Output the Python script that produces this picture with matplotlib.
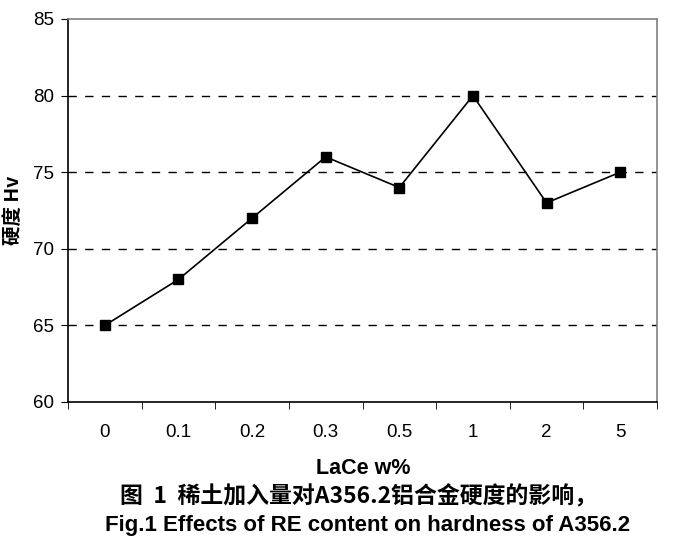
import matplotlib
matplotlib.use("Agg")
import matplotlib.pyplot as plt

categories = ["0", "0.1", "0.2", "0.3", "0.5", "1", "2", "5"]
hardness = [65, 68, 72, 76, 74, 80, 73, 75]
yticks = [60, 65, 70, 75, 80, 85]

plt.rcParams['font.family'] = ['Liberation Sans', 'Noto Sans CJK SC', 'DejaVu Sans']

fig = plt.figure(figsize=(6.75, 5.49), dpi=100)
ax = fig.add_axes([68/675, 1-402/549, (657-68)/675, (402-19)/549])

x = list(range(len(categories)))
ax.plot(x, hardness, color='black', lw=1.2, marker='s', markersize=7,
        markerfacecolor='black', markeredgecolor='black', zorder=3)

ax.set_xlim(-0.5, len(categories)-0.5)
ax.set_ylim(60, 85)
ax.set_yticks(yticks)
ax.set_yticklabels([str(v) for v in yticks], fontsize=13.5)
ax.set_xticks(x)
ax.set_xticklabels(categories, fontsize=13.5)
ax.tick_params(axis='x', length=0, pad=16)
ax.set_xticks([i+0.5 for i in range(-1, len(categories))], minor=True)
ax.tick_params(axis='x', which='minor', length=5, direction='out', color='black')
ax.tick_params(axis='y', length=5, direction='out', pad=5, color='black')

for v in [65, 70, 75, 80]:
    ax.axhline(v, color='black', lw=1, ls=(0, (6, 6)), zorder=1)

ax.spines['left'].set_color('black')
ax.spines['bottom'].set_color('black')
ax.spines['top'].set_color('#808080')
ax.spines['right'].set_color('#808080')
for s in ax.spines.values():
    s.set_linewidth(1.2)

fig.text(13/675, 1-210/549, "硬度 Hv", rotation=90, fontsize=14, fontweight='bold',
         ha='center', va='center', family=['Noto Sans CJK SC', 'Liberation Sans'])

fig.text(363/675, 1-468/549, "LaCe w%", fontsize=15.5, fontweight='bold',
         ha='center', va='center')
fig.text(359/675, 1-497/549, "图  1  稀土加入量对A356.2铝合金硬度的影响，", fontsize=16.5,
         fontweight='bold', ha='center', va='center',
         family=['Noto Sans CJK SC', 'Liberation Sans'])
fig.text(368/675, 1-526/549, "Fig.1 Effects of RE content on hardness of A356.2",
         fontsize=16, fontweight='bold', ha='center', va='center')

fig.savefig("out.png", dpi=100)
